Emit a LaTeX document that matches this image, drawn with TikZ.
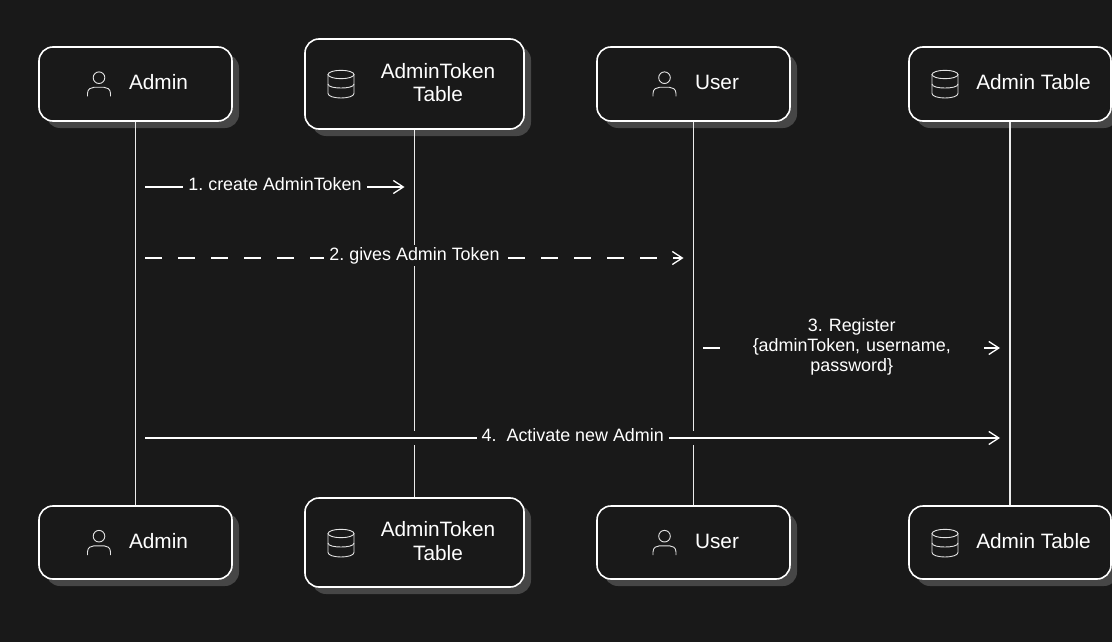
\documentclass[tikz,border=0pt]{standalone}
\usepackage{fontspec}
\setmainfont{Liberation Sans}
\usetikzlibrary{arrows.meta,shadows}
\definecolor{bg}{HTML}{191919}
\definecolor{shade}{HTML}{464646}
\definecolor{ink}{HTML}{FFFFFF}
\definecolor{iconink}{HTML}{E4E4E4}
\tikzset{
  actor/.style={draw=ink,fill=bg,line width=1.6pt,rectangle,rounded corners=14pt,inner sep=0pt,
    minimum width=#1,
    drop shadow={shadow xshift=7pt,shadow yshift=-7pt,fill=shade,opacity=1}},
  actor/.default=193pt,
  boxtext/.style={text=ink,font=\fontsize{20.8}{23.5}\selectfont,align=center,inner sep=0pt},
  lifeline/.style={draw=ink!92!black,line width=1.6pt},
  msg/.style={draw=ink,line width=1.6pt,shorten <=9.5pt,shorten >=10pt,
    -{Straight Barb[length=10pt,width=13pt,line width=1.3pt]},
    preaction={draw=bg,line width=14pt,-,shorten <=10pt,shorten >=10pt}},
  msgdash/.style={msg,dash pattern=on 17pt off 16pt},
  msglabel/.style={fill=bg,text=ink,font=\fontsize{17.9}{20}\selectfont,inner xsep=5pt,inner ysep=2pt,align=center},
  personicon/.pic={
    \draw[iconink,line width=0.9pt] (0,-9.3) circle[radius=5.8];
    \draw[iconink,line width=0.9pt] (-11.5,9.5) -- (-11.5,6.5) .. controls (-11.5,2) and (-8,0.3) .. (-5,0.3)
      -- (5,0.3) .. controls (8,0.3) and (11.5,2) .. (11.5,6.5) -- (11.5,9.5);
  },
  dbicon/.pic={
    \draw[iconink,line width=0.9pt] (0,-9.5) ellipse[x radius=13,y radius=4.2];
    \draw[iconink,line width=0.9pt] (-13,-9.5) -- (-13,9.5) .. controls (-13,12.5) and (-6,14) .. (0,14)
      .. controls (6,14) and (13,12.5) .. (13,9.5) -- (13,-9.5);
    \draw[iconink,line width=0.9pt] (-13,0) .. controls (-13,3) and (-6,4) .. (0,4)
      .. controls (6,4) and (13,3) .. (13,0);
  }
}
\begin{document}
\frenchspacing
\begin{tikzpicture}[x=1pt,y=-1pt]
\fill[bg] (0,0) rectangle (1112,642);
\useasboundingbox (0,0) rectangle (1112,642);

% top row
\node[actor,minimum height=74pt] (a) at (135.5,84) {};
\node[actor=219pt,minimum height=90pt] (t) at (414.5,84) {};
\node[actor,minimum height=74pt] (u) at (693.5,84) {};
\node[actor=202pt,minimum height=74pt] (d) at (1010,84) {};
% bottom row
\node[actor,minimum height=73pt] (a2) at (135.5,542.5) {};
\node[actor=219pt,minimum height=89pt] (t2) at (414.5,542.5) {};
\node[actor,minimum height=73pt] (u2) at (693.5,542.5) {};
\node[actor=202pt,minimum height=73pt] (d2) at (1010,542.5) {};

% lifelines
\draw[lifeline] (a.south) -- (a2.north);
\draw[lifeline] (t.south) -- (t2.north);
\draw[lifeline] (u.south) -- (u2.north);
\draw[lifeline] (d.south) -- (d2.north);

% message rows
\coordinate (r1) at (0,187);
\coordinate (r2) at (0,258);
\coordinate (r3) at (0,348);
\coordinate (r4) at (0,438);

\draw[msg] (a.south |- r1) -- node[msglabel,yshift=2.5pt] (l1) {1. create AdminToken} (t.south |- r1);
\draw[msgdash] (a.south |- r2) -- node[msglabel,yshift=2.5pt] (l2) {2. gives Admin Token} (u.south |- r2);
\draw[msg] (u.south |- r3) -- node[msglabel,text width=254pt,inner xsep=5pt,yshift=1pt] (l3) {3. Register\\{\{}adminToken, username,\\password{\}}} (d.south |- r3);
\draw[msg] (a.south |- r4) -- node[msglabel,yshift=2.5pt] (l4) {4.\ \ Activate new Admin} (d.south |- r4);

% box contents
\pic at (99,87) {personicon};
\node[boxtext] (ta) at (158.5,82) {Admin};
\pic at (341,84) {dbicon};
\node[boxtext] (tt) at (438,82.5) {AdminToken\\Table};
\pic at (664.5,87) {personicon};
\node[boxtext] (tu) at (717,82.5) {User};
\pic at (945,84) {dbicon};
\node[boxtext] (td) at (1033.5,82) {Admin Table};

\pic at (99,545.5) {personicon};
\node[boxtext] (ta2) at (158.5,541) {Admin};
\pic at (341,543) {dbicon};
\node[boxtext] (tt2) at (438,541) {AdminToken\\Table};
\pic at (664.5,545.5) {personicon};
\node[boxtext] (tu2) at (717,541.5) {User};
\pic at (945,543) {dbicon};
\node[boxtext] (td2) at (1033.5,541) {Admin Table};
\end{tikzpicture}
\end{document}
